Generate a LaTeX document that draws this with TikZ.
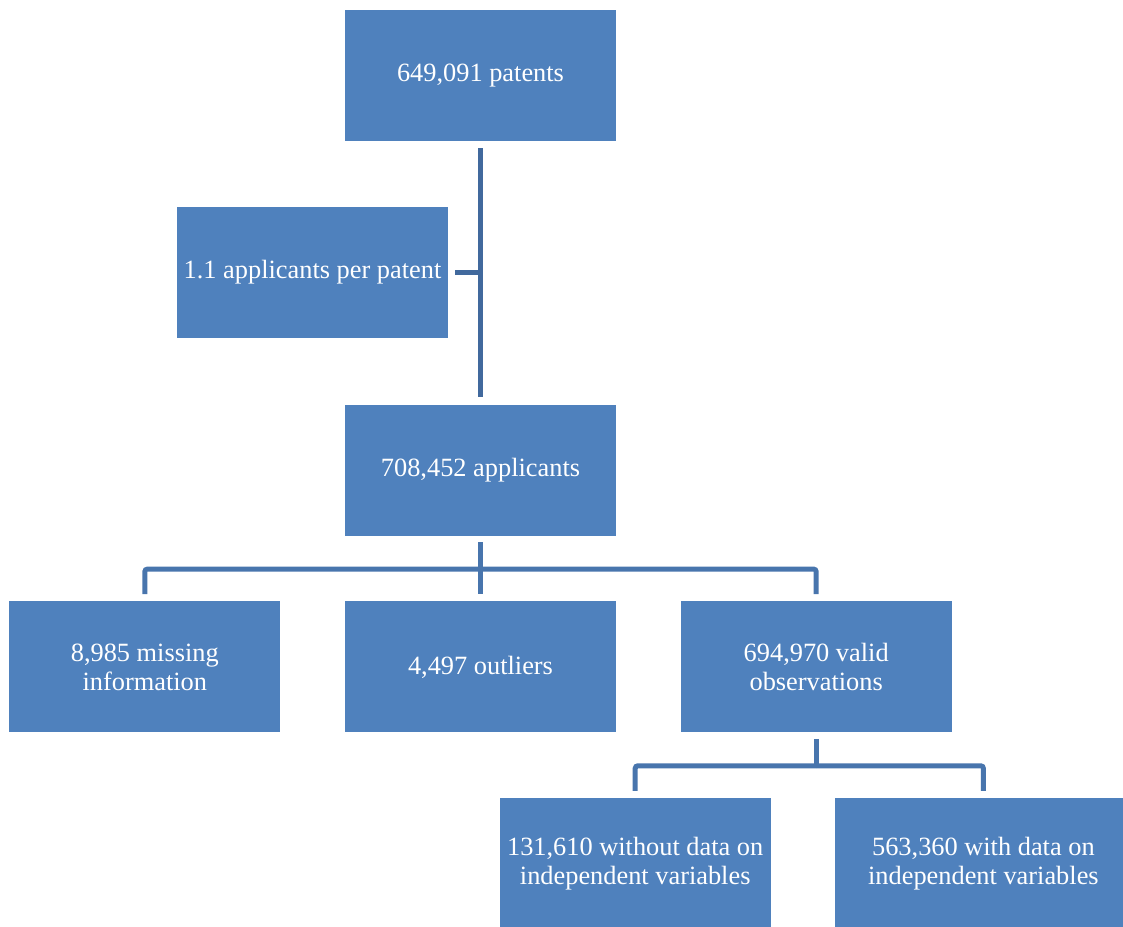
\documentclass[tikz,border=0pt]{standalone}
\usepackage{xcolor}
\usepackage{fontspec}
\setmainfont{Liberation Serif}
\usepackage{tikz}
\usetikzlibrary{positioning}
\definecolor{boxblue}{HTML}{4F81BD}
\definecolor{linkblue}{HTML}{41699D}
\definecolor{forkblue}{HTML}{4875AD}
\tikzset{
	stage/.style={draw=none, fill=boxblue, text=white, align=center, inner sep=0pt, minimum width=5.42cm, minimum height=2.62cm, font=\fontsize{15}{16.5}\selectfont},
	link/.style={draw=linkblue, line width=0.1cm},
	fork/.style={draw=forkblue, line width=0.1cm, rounded corners=1.5pt}
}

\begin{document}
\begin{tikzpicture}[node distance=1.3cm]
		\useasboundingbox (0,0) rectangle (22.46,-18.52);
		\node[stage] (patents) at (9.61,-1.51) {649,091 patents};
		\node[stage] (perpatent) at (6.25,-5.45) {1.1 applicants per patent};
		\node[stage, below=5.26cm of patents] (applicants) {708,452 applicants};
		
		\node[stage, below=of applicants] (outliers) {4,497 outliers};
		\node[stage, left=1.28cm of outliers] (missing) {8,985 missing\\information};
		\node[stage, right=1.28cm of outliers] (valid) {694,970 valid\\observations};
		
		\node[stage, below=of valid, xshift=-3.62cm] (without) {131,610 without data on\\independent variables};
		\node[stage, right=1.28cm of without, minimum width=5.92cm] (with) {563,360 with data on\\independent variables};
		
		\coordinate[below=0.66cm of applicants.south] (fork1);
		\coordinate[below=0.66cm of valid.south] (fork2);
		
		\draw[link, shorten <=0.14cm, shorten >=0.14cm] (patents.south) -- (applicants.north);
		\draw[link, shorten <=0.14cm] (perpatent.east) -- (perpatent -| patents);
		
		\draw[fork, shorten <=0.12cm] (applicants.south) -- (fork1);
		\draw[fork, shorten >=0.14cm] (fork1) -| (missing.north);
		\draw[fork, shorten >=0.14cm] (fork1) -- (outliers.north);
		\draw[fork, shorten >=0.14cm] (fork1) -| (valid.north);
		
		\draw[fork, shorten <=0.12cm] (valid.south) -- (fork2);
		\draw[fork, shorten >=0.14cm] (fork2) -| (without.north);
		\draw[fork, shorten >=0.14cm] (fork2) -| (with.north);
	\end{tikzpicture}
\end{document}
